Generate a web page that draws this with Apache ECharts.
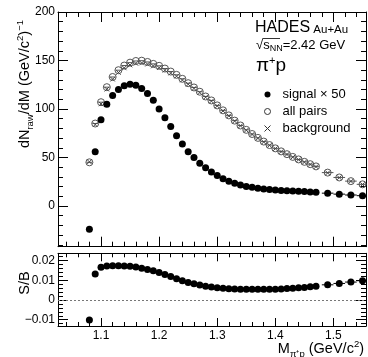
<!DOCTYPE html>
<html>
<head>
<meta charset="utf-8">
<script src="https://cdn.jsdelivr.net/npm/echarts@6/dist/echarts.min.js"></script>
<style>
  html, body { margin: 0; padding: 0; background: #fff; }
  #chart { width: 368px; height: 357px; }
</style>
</head>
<body>
<div id="chart"></div>
<script>
// pi+ p invariant-mass spectrum, HADES Au+Au at sqrt(s_NN) = 2.42 GeV
const mass = [1.08, 1.09, 1.10, 1.11, 1.12, 1.13, 1.14, 1.15, 1.16, 1.17,
  1.18, 1.19, 1.20, 1.21, 1.22, 1.23, 1.24, 1.25, 1.26, 1.27,
  1.28, 1.29, 1.30, 1.31, 1.32, 1.33, 1.34, 1.35, 1.36, 1.37,
  1.38, 1.39, 1.40, 1.41, 1.42, 1.43, 1.44, 1.45, 1.46, 1.47,
  1.49, 1.51, 1.53, 1.55];
// half of each bin width (GeV/c^2)
const binHalfWidth = [0.005, 0.005, 0.005, 0.005, 0.005, 0.005, 0.005, 0.005, 0.005, 0.005,
  0.005, 0.005, 0.005, 0.005, 0.005, 0.005, 0.005, 0.005, 0.005, 0.005,
  0.005, 0.005, 0.005, 0.005, 0.005, 0.005, 0.005, 0.005, 0.005, 0.005,
  0.005, 0.005, 0.005, 0.005, 0.005, 0.005, 0.005, 0.005, 0.005, 0.005,
  0.01, 0.01, 0.01, 0.01];
const signalX50 = [-24, 56, 89, 105, 114, 120, 124, 125.5, 124.5, 121,
  116, 109, 100, 91, 82, 72.5, 64, 56, 50, 44,
  39.5, 35, 31.5, 28, 25.5, 23.5, 21.6, 20.2, 19.2, 18.3,
  17.5, 16.9, 16.4, 16.0, 15.7, 15.4, 15.1, 14.8, 14.5, 14.2,
  13.2, 12.2, 11.3, 10.6];
const allPairs = [45, 85, 107, 122.5, 133, 140, 144.8, 147.8, 149.5, 149.8,
  148.5, 146.5, 144.5, 141.7, 138.6, 135.2, 131.1, 126.6, 122.2, 117.8,
  112.9, 108.8, 103.7, 98.6, 93.4, 88, 83, 78.5, 74.2, 70.2,
  66.4, 62.8, 59.4, 56.3, 53.4, 50.6, 48, 45.5, 43.1, 40.8,
  34.4, 29.4, 25.6, 22.3];
const background = [45.5, 83.9, 105.2, 120.4, 130.7, 137.6, 142.3, 145.3, 147.0, 147.4,
  146.2, 144.3, 142.5, 139.9, 137.0, 133.8, 129.8, 125.5, 121.2, 116.9,
  112.1, 108.1, 103.1, 98.0, 92.9, 87.5, 82.6, 78.1, 73.8, 69.8,
  66.0, 62.5, 59.1, 56.0, 53.1, 50.3, 47.7, 45.2, 42.8, 40.5,
  34.1, 29.2, 25.4, 22.1];
const sOverB = [-0.0102, 0.0132, 0.0166, 0.0172, 0.0174, 0.0174, 0.0173, 0.0171, 0.0168, 0.0161,
  0.0155, 0.0148, 0.0139, 0.0129, 0.0119, 0.0108, 0.0098, 0.0089, 0.0082, 0.0076,
  0.0070, 0.0066, 0.0062, 0.0059, 0.0057, 0.0056, 0.0055, 0.0054, 0.0054, 0.0054,
  0.0054, 0.0055, 0.0055, 0.0056, 0.0058, 0.0060, 0.0062, 0.0064, 0.0067, 0.0070,
  0.0077, 0.0084, 0.0091, 0.0098];

const xTickLabels = [1.1, 1.2, 1.3, 1.4, 1.5];
const yTopTickLabels = [0, 50, 100, 150, 200];
const yBottomTickLabels = [-0.01, 0, 0.01, 0.02];

const FONT = '"Liberation Sans", Arial, Helvetica, sans-serif';
const X_RANGE = [1.026, 1.556];
const Y_TOP_RANGE = [-42, 200];
const Y_BOT_RANGE = [-0.0132, 0.0237];

// tick positions at a fixed step across an axis range
function ticks(min, max, step) {
  const out = [];
  const k0 = Math.ceil(min / step - 1e-9), k1 = Math.floor(max / step + 1e-9);
  for (let k = k0; k <= k1; k++) out.push(+(k * step).toFixed(6));
  return out;
}

// one frame side: an axis carrying the line + major ticks, and one carrying minor ticks
function side(gridIndex, position, range, majorStep, minorStep, majorLen, minorLen, labels, fmt, margin) {
  const base = {
    type: 'value', gridIndex, position, min: range[0], max: range[1],
    splitLine: { show: false }, axisPointer: { show: false }
  };
  const major = Object.assign({}, base, {
    axisLine: { show: true, onZero: false, lineStyle: { color: '#000', width: 1 } },
    axisTick: { show: true, inside: true, length: majorLen,
      customValues: ticks(range[0], range[1], majorStep), lineStyle: { color: '#000', width: 1 } },
    axisLabel: labels ? {
      show: true, customValues: labels, formatter: fmt, margin: margin,
      fontSize: 12, color: '#000', fontFamily: FONT
    } : { show: false }
  });
  const minor = Object.assign({}, base, {
    axisLine: { show: false, onZero: false },
    axisTick: { show: true, inside: true, length: minorLen,
      customValues: ticks(range[0], range[1], minorStep), lineStyle: { color: '#000', width: 1 } },
    axisLabel: { show: false }
  });
  return [major, minor];
}

const fmtMinus = v => String(v).replace('-', '\u2212');

const xAxes = [].concat(
  side(0, 'bottom', X_RANGE, 0.1, 0.02, 10, 5, null),
  side(0, 'top', X_RANGE, 0.1, 0.02, 10, 5, null),
  side(1, 'bottom', X_RANGE, 0.1, 0.02, 8, 4, xTickLabels, v => String(v), 4),
  side(1, 'top', X_RANGE, 0.1, 0.02, 8, 4, null)
);
const yAxes = [].concat(
  side(0, 'left', Y_TOP_RANGE, 50, 10, 10, 5, yTopTickLabels, v => fmtMinus(v), 3),
  side(0, 'right', Y_TOP_RANGE, 50, 10, 10, 5, null),
  side(1, 'left', Y_BOT_RANGE, 0.01, 0.002, 10, 5, yBottomTickLabels, v => fmtMinus(v), 3),
  side(1, 'right', Y_BOT_RANGE, 0.01, 0.002, 10, 5, null)
);

function zipPoints(ys) { return mass.map((m, i) => [m, ys[i]]); }
function zipBars(ys) { return mass.map((m, i) => [m, ys[i], binHalfWidth[i]]); }

// horizontal bin-width bars drawn through the axis scales
function binBars(name, ys, color, xAxisIndex, yAxisIndex) {
  return {
    type: 'custom', name: name + ' bins', xAxisIndex, yAxisIndex, silent: true, clip: true,
    data: zipBars(ys), encode: { x: 0, y: 1 }, z: 1,
    renderItem: (params, api) => {
      const x = api.value(0), y = api.value(1), hw = api.value(2);
      const a = api.coord([x - hw, y]), b = api.coord([x + hw, y]);
      return { type: 'line', shape: { x1: a[0], y1: a[1], x2: b[0], y2: b[1] },
        style: { stroke: color, lineWidth: 1 } };
    }
  };
}

const chart = echarts.init(document.getElementById('chart'), null, { renderer: 'canvas' });

chart.setOption({
  animation: false,
  backgroundColor: '#fff',
  textStyle: { fontFamily: FONT },
  grid: [
    { left: 58, right: 2, top: 12, height: 234.7 },
    { left: 58, right: 2, top: 253.3, height: 72.7 }
  ],
  xAxis: xAxes,
  yAxis: yAxes,
  legend: {
    orient: 'vertical', left: 259, top: 81,
    itemWidth: 12, itemHeight: 6, itemGap: 0,
    textStyle: { fontSize: 13, color: '#000', fontFamily: FONT, lineHeight: 17, padding: [0, 0, 0, 4] },
    data: [
      { name: 'signal \u00d7 50' },
      { name: 'all pairs', itemStyle: { borderWidth: 1, borderColor: '#333' } },
      { name: 'background', itemStyle: { borderWidth: 1, borderColor: '#333' } }
    ]
  },
  series: [
    binBars('all pairs', allPairs, '#555', 0, 0),
    binBars('signal', signalX50, '#000', 0, 0),
    {
      type: 'scatter', name: 'all pairs', xAxisIndex: 0, yAxisIndex: 0,
      data: zipPoints(allPairs), symbol: 'circle', symbolSize: 7, z: 2,
      itemStyle: { color: 'rgba(0,0,0,0)', borderColor: '#555', borderWidth: 1, opacity: 1 }
    },
    {
      type: 'scatter', name: 'background', xAxisIndex: 0, yAxisIndex: 0,
      data: zipPoints(background), symbol: 'path://M0,0L10,10M10,0L0,10', symbolSize: 4.5, z: 3,
      itemStyle: { color: 'rgba(0,0,0,0)', borderColor: '#444', borderWidth: 1, opacity: 1 }
    },
    {
      type: 'scatter', name: 'signal \u00d7 50', xAxisIndex: 0, yAxisIndex: 0,
      data: zipPoints(signalX50), symbol: 'circle', symbolSize: 7, z: 4,
      itemStyle: { color: '#000', opacity: 1 }
    },
    binBars('S/B', sOverB, '#000', 4, 4),
    {
      type: 'scatter', name: 'S/B', xAxisIndex: 4, yAxisIndex: 4,
      data: zipPoints(sOverB), symbol: 'circle', symbolSize: 7, z: 4,
      itemStyle: { color: '#000', opacity: 1 },
      markLine: {
        silent: true, symbol: 'none', animation: false, label: { show: false },
        lineStyle: { color: '#777', type: [2, 2], width: 1 },
        data: [{ yAxis: 0 }]
      }
    }
  ],
  graphic: [
    {
      type: 'text', x: 25, y: 20, rotation: Math.PI / 2, silent: true,
      style: {
        text: '{m|dN}{s|raw}{m|/dM (GeV/c}{p|2}{m|)}{p|\u22121}',
        align: 'right', textAlign: 'right', verticalAlign: 'middle', textVerticalAlign: 'middle',
        fill: '#000',
        rich: {
          m: { fontSize: 14.5, fontFamily: FONT, lineHeight: 20, fill: '#000' },
          s: { fontSize: 9.5, fontFamily: FONT, lineHeight: 10, verticalAlign: 'bottom', fill: '#000' },
          p: { fontSize: 9.5, fontFamily: FONT, lineHeight: 10, verticalAlign: 'top', fill: '#000' }
        }
      }
    },
    {
      type: 'text', x: 25, y: 283, rotation: Math.PI / 2, silent: true,
      style: {
        text: 'S/B', fontSize: 14.5, fontFamily: FONT, fill: '#000',
        align: 'center', textAlign: 'center', verticalAlign: 'middle', textVerticalAlign: 'middle'
      }
    },
    {
      type: 'text', x: 364, y: 349, silent: true,
      style: {
        text: '{m|M}{s|\u03c0\u207ap}{m| (GeV/c}{p|2}{m|)}',
        align: 'right', textAlign: 'right', verticalAlign: 'middle', textVerticalAlign: 'middle',
        fill: '#000',
        rich: {
          m: { fontSize: 14.5, fontFamily: FONT, lineHeight: 20, fill: '#000' },
          s: { fontSize: 9.5, fontFamily: FONT, lineHeight: 10, verticalAlign: 'bottom', fill: '#000' },
          p: { fontSize: 9.5, fontFamily: FONT, lineHeight: 10, verticalAlign: 'top', fill: '#000' }
        }
      }
    },
    {
      type: 'text', x: 255, y: 28, silent: true,
      style: {
        text: '{a|HADES}{b| Au+Au}',
        align: 'left', textAlign: 'left', verticalAlign: 'middle', textVerticalAlign: 'middle',
        fill: '#000',
        rich: {
          a: { fontSize: 16, fontFamily: FONT, lineHeight: 16, verticalAlign: 'bottom', fill: '#000' },
          b: { fontSize: 11.5, fontFamily: FONT, lineHeight: 12, verticalAlign: 'bottom', fill: '#000' }
        }
      }
    },
    {
      type: 'text', x: 256, y: 45, silent: true,
      style: {
        text: '{m|\u221as}{s|NN}{m|=2.42 GeV}',
        align: 'left', textAlign: 'left', verticalAlign: 'middle', textVerticalAlign: 'middle',
        fill: '#000',
        rich: {
          m: { fontSize: 13, fontFamily: FONT, lineHeight: 16, fill: '#000' },
          s: { fontSize: 9, fontFamily: FONT, lineHeight: 9, verticalAlign: 'bottom', fill: '#000' }
        }
      }
    },
    {
      // bar of the square-root sign over s_NN
      type: 'line', silent: true,
      shape: { x1: 262.5, y1: 38.5, x2: 280, y2: 38.5 },
      style: { stroke: '#000', lineWidth: 0.8 }
    },
    {
      type: 'text', x: 256, y: 66, silent: true,
      style: {
        text: '{m|\u03c0}{p|+}{m|p}',
        align: 'left', textAlign: 'left', verticalAlign: 'middle', textVerticalAlign: 'middle',
        fill: '#000',
        rich: {
          m: { fontSize: 19, fontFamily: FONT, lineHeight: 22, fill: '#000' },
          p: { fontSize: 11, fontFamily: FONT, lineHeight: 11, verticalAlign: 'top', fill: '#000' }
        }
      }
    }
  ]
});
</script>
</body>
</html>
